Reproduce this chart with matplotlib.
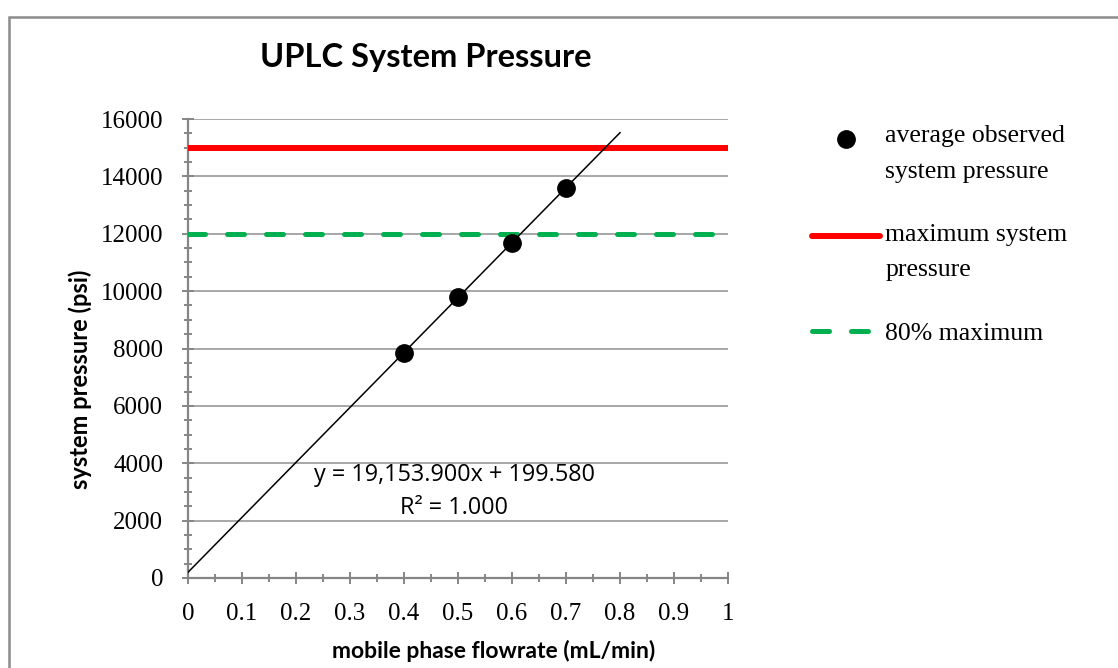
import numpy as np
import matplotlib
matplotlib.use('Agg')
import matplotlib.pyplot as plt
from matplotlib.patches import Rectangle
from matplotlib.ticker import MultipleLocator
from matplotlib.legend_handler import HandlerLine2D

# measured pressure vs flowrate
flowrate = [0.4, 0.5, 0.6, 0.7]
pressure = [7860, 9780, 11690, 13605]

# linear fit reported on the chart
slope = 19153.900
intercept = 199.580
r_squared = 1.000
fit_x = [0.0, 0.8]

max_pressure = 15000
limit_80 = 12000

SERIF = 'Liberation Serif'
SANS = 'Lato'
GRAY = '#868686'

W, H = 1118, 668
fig = plt.figure(figsize=(W / 100, H / 100), dpi=100)

def fx(px):
  return px / W

def fy(py):
  return 1 - py / H


class FirstLineHandler(HandlerLine2D):
  """
  Put the legend key next to the first line of a two-line label
  """

  def __init__(self, shift, **kwargs):
    super().__init__(**kwargs)
    self.shift = shift

  def create_artists(self, *args, **kwargs):
    artists = super().create_artists(*args, **kwargs)
    for a in artists:
      a.set_ydata(np.asarray(a.get_ydata(), dtype=float) + self.shift)
    return artists


# chart area border (runs off the right and bottom edges)
fig.patches.append(Rectangle((fx(9), fy(H + 20)), 1.2, fy(17) - fy(H + 20),
  transform=fig.transFigure, fill=False, edgecolor='#8c8c8c', linewidth=1.8))

ax = fig.add_axes([fx(188), fy(578), fx(728) - fx(188), fy(119) - fy(578)])
ax.set_xlim(0, 1)
ax.set_ylim(0, 16000)

# horizontal gridlines
ax.yaxis.set_major_locator(MultipleLocator(2000))
ax.yaxis.set_minor_locator(MultipleLocator(500))
ax.xaxis.set_major_locator(MultipleLocator(0.1))
ax.xaxis.set_minor_locator(MultipleLocator(0.05))
ax.grid(axis='y', which='major', color='#a0a0a0', linewidth=1.3)
ax.set_axisbelow(True)

for side in ('top', 'right'):
  ax.spines[side].set_visible(False)
for side in ('left', 'bottom'):
  ax.spines[side].set_color(GRAY)
  ax.spines[side].set_linewidth(1.6)

ax.tick_params(which='major', direction='inout', length=8, width=1.4, color=GRAY,
  labelsize=18, pad=14)
ax.tick_params(which='minor', direction='inout', length=5.5, width=1.4, color=GRAY)
ax.xaxis.set_major_formatter(matplotlib.ticker.FuncFormatter(lambda v, p: '%g' % round(v, 2)))
for lbl in ax.get_xticklabels() + ax.get_yticklabels():
  lbl.set_fontfamily(SERIF)

# limits
red, = ax.plot([0, 1], [max_pressure] * 2, color='#ff0000', linewidth=4.3,
  solid_capstyle='round', label='maximum system\npressure', zorder=3)
green, = ax.plot([0, 1], [limit_80] * 2, color='#00b050', linewidth=3.6,
  dashes=(3.4, 4.4), dash_capstyle='round', label='80% maximum', zorder=3)

# trendline
fit_y = [slope * x + intercept for x in fit_x]
ax.plot(fit_x, fit_y, color='black', linewidth=1.1, zorder=4)

# observations
dots, = ax.plot(flowrate, pressure, 'o', color='black', markersize=12.5,
  label='average observed\nsystem pressure', zorder=5)

EQ_FONT = 'Open Sans'
ax.text(fx(454), fy(475), 'y = {:,.3f}x + {:,.3f}'.format(slope, intercept),
  transform=fig.transFigure, ha='center', va='center', fontsize=16.8, family=EQ_FONT)
ax.text(fx(454), fy(508), 'R² = {:.3f}'.format(r_squared),
  transform=fig.transFigure, ha='center', va='center', fontsize=16.8, family=EQ_FONT)

# titles
fig.text(fx(426), fy(58), 'UPLC System Pressure', ha='center', va='center',
  fontsize=23.5, fontweight='bold', family=SANS)
fig.text(fx(494), fy(651), 'mobile phase flowrate (mL/min)', ha='center', va='center',
  fontsize=16.5, fontweight='bold', family=SANS)
fig.text(fx(80), fy(379), 'system pressure (psi)', ha='center', va='center',
  rotation=90, fontsize=17, fontweight='bold', family=SANS)

leg = fig.legend([dots, red, green], [dots.get_label(), red.get_label(), green.get_label()],
  loc='upper left', bbox_to_anchor=(fx(812), fy(125)), frameon=False,
  prop={'family': SERIF, 'size': 18.5}, handlelength=2.65, handletextpad=0.2,
  labelspacing=1.6, borderaxespad=0, borderpad=0,
  handler_map={dots: FirstLineHandler(10.0), red: FirstLineHandler(11.5)})
for t in leg.get_texts():
  t.set_linespacing(1.8)

fig.savefig('out.png', dpi=100)
